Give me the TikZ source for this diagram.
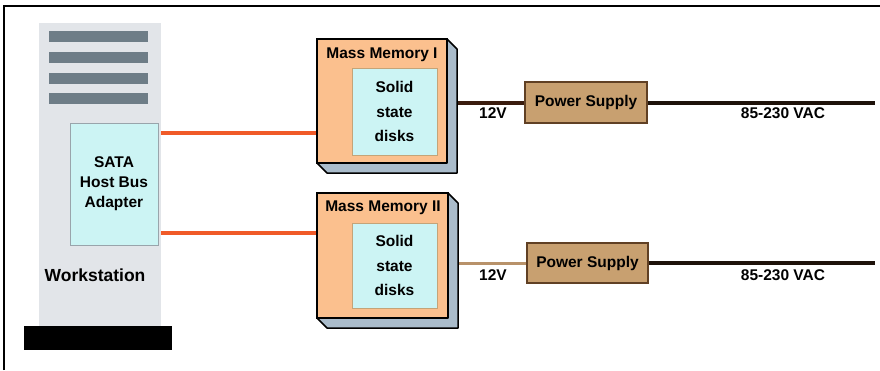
\documentclass[tikz,border=0pt]{standalone}
\usepackage{fontspec}
\setmainfont{Liberation Sans}
\usetikzlibrary{backgrounds}
\definecolor{wsgray}{RGB}{226,229,233}
\definecolor{slot}{RGB}{110,125,135}
\definecolor{cyanbox}{RGB}{204,244,244}
\definecolor{peach}{RGB}{251,192,142}
\definecolor{sidegray}{RGB}{170,188,203}
\definecolor{tan}{RGB}{200,160,112}
\definecolor{tanline}{RGB}{184,146,106}
\definecolor{brownline}{RGB}{58,28,14}
\definecolor{darkline}{RGB}{30,18,10}
\definecolor{sataorange}{RGB}{240,90,40}
\definecolor{psborder}{RGB}{96,64,36}
\definecolor{ssdborder}{RGB}{196,164,120}
\tikzset{
  x=1pt, y=-1pt,
  box/.style={inner sep=0pt, outer sep=0pt, anchor=center},
  lbl/.style={inner sep=0pt, font=\fontsize{15.5}{20}\selectfont\bfseries, align=center},
  slotbox/.style={box, fill=slot, minimum width=99pt, minimum height=11pt},
  membox/.style={box, fill=peach, draw=black, line width=1.5pt},
  ssdbox/.style={box, fill=cyanbox, draw=ssdborder, line width=1pt, minimum width=85pt,
    font=\fontsize{15.5}{24.5}\selectfont\bfseries, align=center},
  psbox/.style={box, fill=tan, draw=psborder, line width=1.2pt, font=\fontsize{15.5}{16}\selectfont\bfseries},
  sata/.style={sataorange, line width=4pt},
  side/.style={fill=sidegray, draw=black, line width=1.5pt, line join=round}
}
\begin{document}
\begin{tikzpicture}
\useasboundingbox (0,0) rectangle (880,370);
\draw[line width=1.5pt] (4,370) -- (4,6) -- (880,6);
% workstation
\node[box, fill=wsgray, minimum width=122pt, minimum height=304pt] (ws) at (100,175) {};
\node[box, fill=black, minimum width=148pt, minimum height=24pt] (base) at (98,338) {};
\node[slotbox] (s1) at (98.5,36.5) {};
\node[slotbox] (s2) at (98.5,57.5) {};
\node[slotbox] (s3) at (98.5,78) {};
\node[slotbox] (s4) at (98.5,98.5) {};
\node[box, fill=cyanbox, draw=slot!70, line width=1pt, minimum width=88pt, minimum height=122pt,
  font=\fontsize{15.5}{20}\selectfont\bfseries, align=center] (hba) at (114,184) {SATA\\Host Bus\\Adapter};
\node[lbl, font=\fontsize{17.5}{20}\selectfont\bfseries] (wsl) at (95,275) {Workstation};
% mass memory I
\node[membox, minimum width=130pt, minimum height=124pt] (mm1) at (382,101) {};
\draw[side] (mm1.north east) -- ++(10,10) -- ([shift={(10,10)}]mm1.south east)
  -- ([shift={(10,10)}]mm1.south west) -- (mm1.south west) -- (mm1.south east) -- cycle;
\node[lbl] (t1) at (382,55) {Mass Memory I};
\node[ssdbox, minimum height=87pt] (ssd1) at (394.5,111.5) {Solid\\state\\disks};
% mass memory II
\node[membox, minimum width=131pt, minimum height=125pt] (mm2) at (382.5,255.5) {};
\draw[side] (mm2.north east) -- ++(10,10) -- ([shift={(10,10)}]mm2.south east)
  -- ([shift={(10,10)}]mm2.south west) -- (mm2.south west) -- (mm2.south east) -- cycle;
\node[lbl] (t2) at (383,208) {Mass Memory II};
\node[ssdbox, minimum height=85pt] (ssd2) at (394.5,265.5) {Solid\\state\\disks};
% power supplies
\node[psbox, minimum width=122pt, minimum height=41pt] (ps1) at (586,102.5) {Power Supply};
\node[psbox, minimum width=121pt, minimum height=40pt] (ps2) at (587.5,263) {Power Supply};
\coordinate (ac1) at (875,102.5);
\coordinate (ac2) at (875,263);
\node[lbl] (v1) at (493,113) {12V};
\node[lbl] (v2) at (493,275) {12V};
\node[lbl] (vac1) at (783,113) {85-230 VAC};
\node[lbl] (vac2) at (783,275) {85-230 VAC};
% connectors
\begin{pgfonlayer}{background}
\draw[sata] ([yshift=51pt]hba.east) coordinate (a1) -- (a1 -| mm1.west);
\draw[sata] ([yshift=-49pt]hba.east) coordinate (a2) -- (a2 -| mm2.west);
\draw[brownline, line width=4pt] (mm1.east |- ps1) -- (ps1.west);
\draw[darkline, line width=4pt] (ps1.east) -- (ac1);
\draw[tanline, line width=3pt] (mm2.east |- ps2) -- (ps2.west);
\draw[darkline, line width=4pt] (ps2.east) -- (ac2);
\end{pgfonlayer}
\end{tikzpicture}
\end{document}
